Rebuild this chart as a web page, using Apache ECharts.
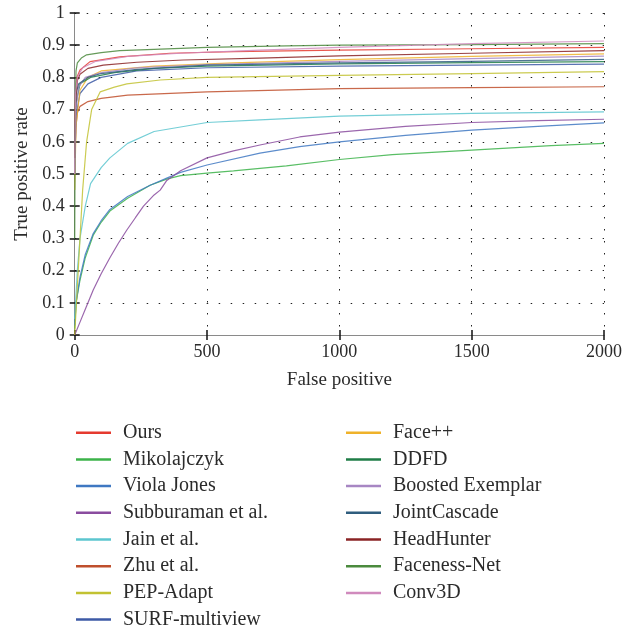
<!DOCTYPE html>
<html>
<head>
<meta charset="utf-8">
<script src="https://cdn.jsdelivr.net/npm/echarts@6/dist/echarts.min.js"></script>
<style>html,body{margin:0;padding:0;background:#fff}#c{width:625px;height:631px}</style>
</head>
<body>
<div id="c"></div>
<script>
// ---- data: [false positives, true positive rate] ----
const ours = [[0,0.6],[3,0.75],[8,0.8],[20,0.823],[58,0.849],[170,0.864],[360,0.875],[600,0.88],[1000,0.885],[1500,0.889],[2000,0.893]];
const mikolajczyk = [[0,0.02],[5,0.1],[20,0.17],[40,0.24],[70,0.31],[100,0.35],[133,0.385],[200,0.425],[285,0.465],[350,0.485],[400,0.495],[500,0.503],[600,0.51],[800,0.525],[1000,0.545],[1200,0.56],[1500,0.574],[1800,0.588],[2000,0.595]];
const violaJones = [[0,0.03],[5,0.1],[20,0.18],[40,0.25],[70,0.315],[100,0.355],[133,0.39],[200,0.43],[285,0.465],[350,0.488],[400,0.505],[500,0.528],[700,0.565],[850,0.585],[1000,0.6],[1250,0.62],[1500,0.636],[1750,0.648],[2000,0.659]];
const subburaman = [[0,0],[20,0.04],[40,0.08],[70,0.14],[100,0.19],[133,0.24],[165,0.285],[197,0.326],[230,0.365],[260,0.4],[300,0.435],[323,0.45],[348,0.48],[400,0.51],[500,0.55],[600,0.572],[700,0.59],[850,0.615],[1000,0.63],[1250,0.648],[1500,0.66],[1750,0.666],[2000,0.67]];
const jain = [[0,0.05],[10,0.2],[20,0.3],[40,0.4],[60,0.47],[100,0.52],[133,0.55],[200,0.595],[300,0.632],[500,0.66],[700,0.668],[1000,0.68],[1500,0.688],[2000,0.693]];
const zhu = [[0,0.55],[5,0.65],[10,0.69],[20,0.71],[50,0.725],[100,0.735],[200,0.745],[500,0.755],[1000,0.765],[1500,0.768],[2000,0.771]];
const pepAdapt = [[0,0],[10,0.15],[20,0.3],[30,0.45],[45,0.6],[64,0.7],[96,0.755],[150,0.77],[197,0.78],[323,0.792],[500,0.8],[1000,0.806],[1500,0.812],[2000,0.818]];
const surfMultiview = [[0,0.5],[5,0.68],[20,0.75],[50,0.78],[100,0.8],[235,0.82],[500,0.83],[1000,0.835],[1500,0.838],[2000,0.841]];
const facePP = [[0,0.45],[5,0.65],[20,0.76],[50,0.8],[100,0.82],[300,0.835],[600,0.845],[1000,0.855],[1500,0.865],[2000,0.873]];
const ddfd = [[0,0.55],[5,0.72],[20,0.78],[60,0.8],[150,0.815],[300,0.828],[500,0.835],[1000,0.842],[1500,0.846],[2000,0.849]];
const boostedExemplar = [[0,0.5],[5,0.7],[15,0.77],[40,0.8],[100,0.815],[235,0.83],[500,0.84],[1000,0.85],[1500,0.858],[2000,0.866]];
const jointCascade = [[0,0.6],[5,0.75],[15,0.78],[50,0.8],[100,0.812],[235,0.825],[500,0.838],[1000,0.845],[1500,0.85],[2000,0.856]];
const headHunter = [[0,0.55],[3,0.72],[10,0.79],[20,0.81],[50,0.828],[108,0.838],[235,0.847],[410,0.854],[700,0.86],[1000,0.867],[1500,0.875],[2000,0.883]];
const facenessNet = [[0,0.3],[2,0.7],[5,0.82],[10,0.845],[25,0.86],[45,0.87],[100,0.877],[170,0.883],[300,0.887],[500,0.893],[800,0.898],[1000,0.9],[1500,0.902],[2000,0.905]];
const conv3D = [[0,0.5],[3,0.75],[10,0.8],[30,0.83],[80,0.85],[200,0.865],[400,0.875],[700,0.885],[1000,0.893],[1500,0.905],[2000,0.913]];

const names = ['Ours','Mikolajczyk','Viola Jones','Subburaman et al.','Jain et al.','Zhu et al.','PEP-Adapt','SURF-multiview','Face++','DDFD','Boosted Exemplar','JointCascade','HeadHunter','Faceness-Net','Conv3D'];
const values = [ours,mikolajczyk,violaJones,subburaman,jain,zhu,pepAdapt,surfMultiview,facePP,ddfd,boostedExemplar,jointCascade,headHunter,facenessNet,conv3D];
const colors = ['#e53a2f','#3cb34a','#3f78c2','#8a4c9f','#5cc6cf','#bf4f2c','#c2c232','#3d5aa6','#efb22a','#1f7d47','#a786c3','#2f5d7e','#8a2324','#4b8a3d','#d08abd'];
const xTicks = [0,500,1000,1500,2000];

const FONT = '"Liberation Serif", "Times New Roman", serif';
const chart = echarts.init(document.getElementById('c'), null, {renderer:'canvas'});
const series = names.map((n,i)=>({
  name:n, type:'line', data:values[i], symbol:'none', xAxisIndex:0, yAxisIndex:0,
  lineStyle:{width:1.2, color:colors[i], opacity:0.85}, itemStyle:{color:colors[i]},
  z: 3
}));
const legendCommon = {
  orient:'vertical', icon:'rect', itemWidth:35, itemHeight:2.5, itemGap:6.7, padding:0,
  height:300, width:260,
  textStyle:{fontFamily:FONT, fontSize:20, color:'#2b2b2b', lineHeight:20, padding:[0,0,0,7]},
  selectedMode:false
};
chart.setOption({
  animation:false,
  backgroundColor:'#fff',
  grid:{left:74.7, right:21, top:13, bottom:296, containLabel:false},
  legend:[
    Object.assign({left:76, top:422.7, data:names.slice(0,8)}, legendCommon),
    Object.assign({left:346, top:422.7, data:names.slice(8)}, legendCommon)
  ],
  xAxis:[{
    type:'value', min:0, max:2000, interval:500,
    name:'False positive', nameLocation:'middle', nameGap:36,
    nameTextStyle:{fontFamily:FONT, fontSize:19, color:'#2b2b2b'},
    axisLine:{show:true, lineStyle:{color:'#8a8a8a', width:1}},
    axisTick:{show:true, inside:true, length:5, lineStyle:{color:'#111', width:1.5}},
    axisLabel:{fontFamily:FONT, fontSize:18, color:'#2b2b2b', margin:8,
      formatter:v=>xTicks.includes(v)?String(v):''},
    splitLine:{show:true, lineStyle:{color:'#222', width:1, type:[1.5,10.5]}}
  },{
    type:'value', min:0, max:2000, interval:500, position:'top',
    axisLine:{show:true, lineStyle:{color:'#8a8a8a', width:1}},
    axisTick:{show:true, inside:true, length:5, lineStyle:{color:'#111', width:1.5}},
    axisLabel:{show:false}, splitLine:{show:false}
  }],
  yAxis:[{
    type:'value', min:0, max:1, interval:0.1,
    name:'True positive rate', nameLocation:'middle', nameGap:41,
    nameTextStyle:{fontFamily:FONT, fontSize:19, color:'#2b2b2b'},
    axisLine:{show:true, lineStyle:{color:'#8a8a8a', width:1}},
    axisTick:{show:true, inside:true, length:5, lineStyle:{color:'#111', width:1.5}},
    axisLabel:{fontFamily:FONT, fontSize:18, color:'#2b2b2b', margin:10,
      formatter:v=>String(Math.round(v*10)/10)},
    splitLine:{show:true, lineStyle:{color:'#222', width:1, type:[1.5,10.5]}}
  },{
    type:'value', min:0, max:1, interval:0.1, position:'right',
    axisLine:{show:true, lineStyle:{color:'#8a8a8a', width:1}},
    axisTick:{show:true, inside:true, length:5, lineStyle:{color:'#111', width:1.5}},
    axisLabel:{show:false}, splitLine:{show:false}
  }],
  series:series
});
</script>
</body>
</html>
